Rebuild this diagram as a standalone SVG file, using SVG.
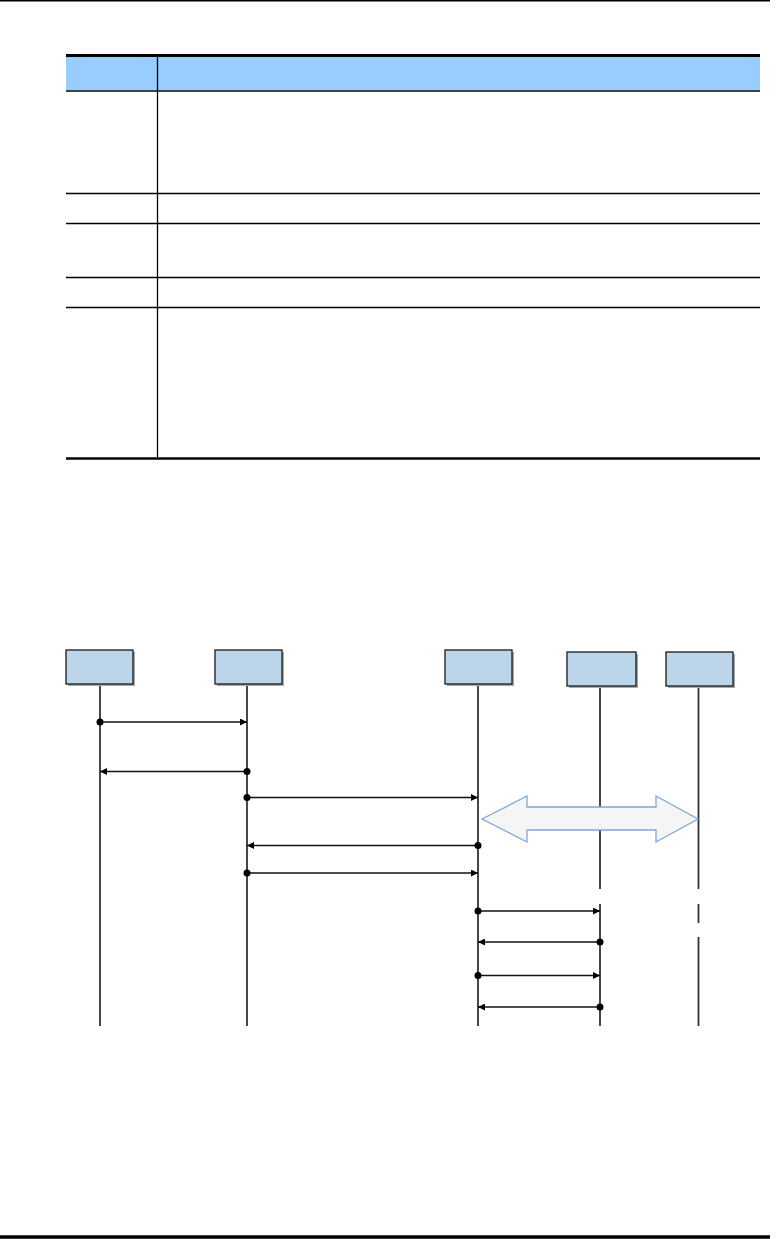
<svg xmlns="http://www.w3.org/2000/svg" width="776" height="1239" viewBox="0 0 776 1239">
<style>
.rule{stroke:#000;fill:none}
.box{fill:#BDD5EB;stroke:#1a1a1a;stroke-width:1.3}
.shadow{fill:#a8a8a8}
.life{stroke:#333;stroke-width:1.8;fill:none}
.msg{stroke:#111;stroke-width:1.4;fill:none}
.dot{fill:#000}
</style>
<defs>
<marker id="ah" viewBox="0 0 10 10" refX="10" refY="5" markerWidth="7" markerHeight="7" markerUnits="userSpaceOnUse" orient="auto">
<path d="M0,0 L10,5 L0,10 z" fill="#000"/>
</marker>
</defs>
<rect width="776" height="1239" fill="#fff"/>
<g id="page">
<line class="rule" x1="0" y1="0.8" x2="770" y2="0.8" stroke-width="1.6"/>
<line class="rule" x1="0" y1="1237" x2="770" y2="1237" stroke-width="3.5"/>
</g>
<g id="table">
<rect x="66" y="57" width="694" height="33" fill="#99CCFF"/>
<line class="rule" x1="66" y1="55.5" x2="760" y2="55.5" stroke-width="3"/>
<line class="rule" x1="66" y1="91" x2="760" y2="91" stroke-width="1.6"/>
<line class="rule" x1="66" y1="193.5" x2="760" y2="193.5" stroke-width="1.4"/>
<line class="rule" x1="66" y1="223.5" x2="760" y2="223.5" stroke-width="1.4"/>
<line class="rule" x1="66" y1="277.5" x2="760" y2="277.5" stroke-width="1.4"/>
<line class="rule" x1="66" y1="307.5" x2="760" y2="307.5" stroke-width="1.4"/>
<line class="rule" x1="66" y1="458.5" x2="760" y2="458.5" stroke-width="2.5"/>
<line class="rule" x1="157.5" y1="57" x2="157.5" y2="457" stroke-width="1.3"/>
</g>
<g id="lifelines">
<line class="life" x1="100" y1="684" x2="100" y2="1026"/>
<line class="life" x1="247" y1="684" x2="247" y2="1026"/>
<line class="life" x1="478" y1="684" x2="478" y2="1026"/>
<line class="life" x1="600" y1="686" x2="600" y2="889" stroke-width="1"/>
<line class="life" x1="600" y1="904" x2="600" y2="1026" stroke-width="1"/>
<line class="life" x1="698.5" y1="686" x2="698.5" y2="889"/>
<line class="life" x1="698.5" y1="904" x2="698.5" y2="923"/>
<line class="life" x1="698.5" y1="937" x2="698.5" y2="1026"/>
</g>
<g id="node1"><rect class="shadow" x="68" y="652" width="67" height="34"/><rect class="box" x="66" y="650" width="67" height="34"/></g>
<g id="node2"><rect class="shadow" x="217" y="652" width="67" height="34"/><rect class="box" x="215" y="650" width="67" height="34"/></g>
<g id="node3"><rect class="shadow" x="447" y="652" width="67" height="34"/><rect class="box" x="445" y="650" width="67" height="34"/></g>
<g id="node4"><rect class="shadow" x="569" y="654" width="69" height="34"/><rect class="box" x="567" y="652" width="69" height="34"/></g>
<g id="node5"><rect class="shadow" x="668" y="654" width="67" height="34"/><rect class="box" x="666" y="652" width="67" height="34"/></g>
<g id="double-arrow">
<polygon points="482,819 527,796 527,807 656,807 656,796 698,819 656,842 656,830 527,830 527,842" fill="#F5F5F5" stroke="#7FA7D7" stroke-width="1.3"/>
</g>
<g id="connectors">
<line class="msg" x1="100" y1="722" x2="247" y2="722" marker-end="url(#ah)"/><circle class="dot" cx="100" cy="722" r="3.5"/>
<line class="msg" x1="247" y1="771.5" x2="100" y2="771.5" marker-end="url(#ah)"/><circle class="dot" cx="247" cy="771.5" r="3.5"/>
<line class="msg" x1="247" y1="797.5" x2="478" y2="797.5" marker-end="url(#ah)"/><circle class="dot" cx="247" cy="797.5" r="3.5"/>
<line class="msg" x1="478" y1="845.5" x2="247" y2="845.5" marker-end="url(#ah)"/><circle class="dot" cx="478" cy="845.5" r="3.5"/>
<line class="msg" x1="247" y1="873" x2="478" y2="873" marker-end="url(#ah)"/><circle class="dot" cx="247" cy="873" r="3.5"/>
<line class="msg" x1="478" y1="911" x2="600" y2="911" marker-end="url(#ah)"/><circle class="dot" cx="478" cy="911" r="3.5"/>
<line class="msg" x1="600" y1="942" x2="478" y2="942" marker-end="url(#ah)"/><circle class="dot" cx="600" cy="942" r="3.5"/>
<line class="msg" x1="478" y1="975.5" x2="600" y2="975.5" marker-end="url(#ah)"/><circle class="dot" cx="478" cy="975.5" r="3.5"/>
<line class="msg" x1="600" y1="1007" x2="478" y2="1007" marker-end="url(#ah)"/><circle class="dot" cx="600" cy="1007" r="3.5"/>
</g>
</svg>
